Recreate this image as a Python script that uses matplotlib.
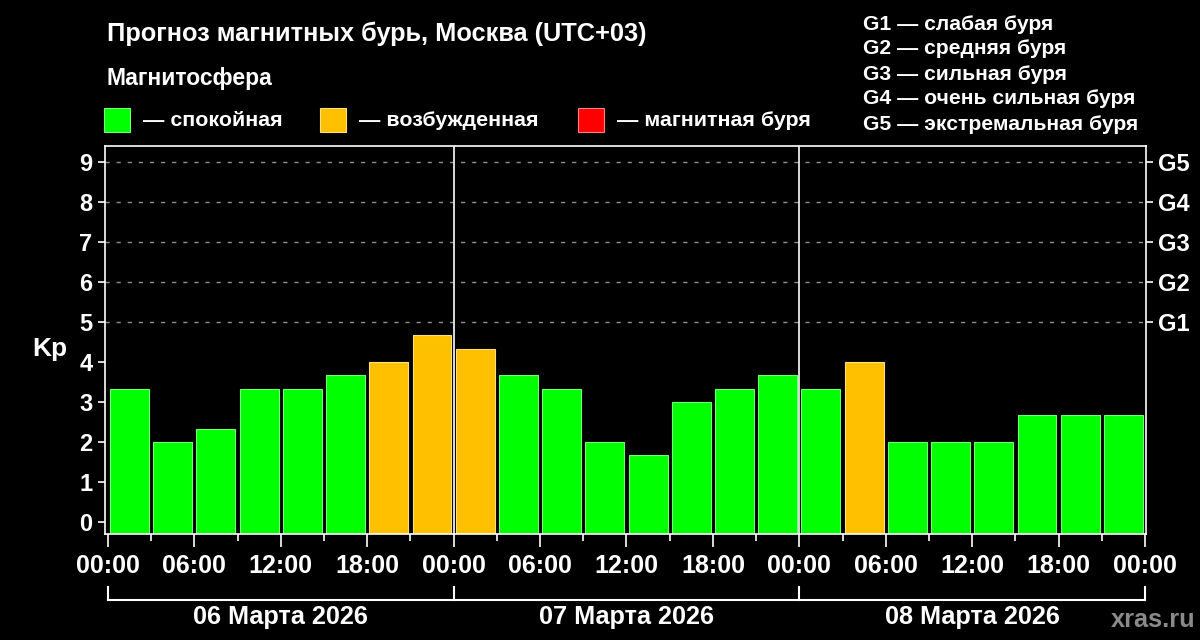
import matplotlib
matplotlib.use("Agg")
import matplotlib.pyplot as plt
import matplotlib.transforms as mtransforms

plt.rcParams["font.family"] = ["Liberation Sans", "DejaVu Sans"]
plt.rcParams["font.weight"] = "bold"

# Kp forecast, one value per 3-hour slot, 06-08 March 2026
kp = [3.33, 2.0, 2.33, 3.33, 3.33, 3.67, 4.0, 4.67,
      4.33, 3.67, 3.33, 2.0, 1.67, 3.0, 3.33, 3.67,
      3.33, 4.0, 2.0, 2.0, 2.0, 2.67, 2.67, 2.67]
slot_hours = 3
days = ["06 Марта 2026", "07 Марта 2026", "08 Марта 2026"]
hour_labels = ["00:00", "06:00", "12:00", "18:00"]
g_levels = [5, 6, 7, 8, 9]
g_labels = ["G1", "G2", "G3", "G4", "G5"]
storm_names = ["слабая буря", "средняя буря", "сильная буря",
               "очень сильная буря", "экстремальная буря"]
state_names = ["спокойная", "возбужденная", "магнитная буря"]

GREEN = "#00ff00"
ORANGE = "#ffc000"
RED = "#ff0000"
state_colors = [GREEN, ORANGE, RED]
edge_colors = {GREEN: "#70ff70", ORANGE: "#ffe080", RED: "#ff8080"}


def kp_color(v):
    if v < 4:
        return GREEN
    if v < 5:
        return ORANGE
    return RED


fig = plt.figure(figsize=(12, 6.4), dpi=100, facecolor="black")
ax = fig.add_axes([0.0875, 0.1656, 0.8673, 0.6063], facecolor="black")

ymin = -0.3
n = len(kp)
total_hours = n * slot_hours
x = [i * slot_hours + slot_hours / 2 for i in range(n)]
colors = [kp_color(v) for v in kp]
# bars rise from the bottom of the axes, below Kp 0
ax.bar(x, [v - ymin for v in kp], width=2.7, bottom=ymin, color=colors,
       edgecolor=[edge_colors[c] for c in colors], linewidth=0.8, zorder=2)
ax.set_xlim(-0.2, total_hours + 0.05)
ax.set_ylim(ymin, 9.4)

# dashed grid only above Kp 5
for g in g_levels:
    ax.axhline(g, color="#909090", lw=1, ls=(0, (3, 5)), zorder=1)

# day separators
for d in range(1, len(days)):
    ax.axvline(d * 24, color="white", lw=1.2, zorder=3)

for s in ax.spines.values():
    s.set_color("white")
    s.set_linewidth(1.2)

# x ticks
major = list(range(0, total_hours + 1, 6))
ax.set_xticks(major)
ax.set_xticklabels([hour_labels[(h % 24) // 6] for h in major])
ax.set_xticks(list(range(3, total_hours, 6)), minor=True)
ax.tick_params(axis="x", which="major", length=9.5, width=1.2, color="white",
               labelcolor="white", labelsize=18, pad=5)
ax.tick_params(axis="x", which="minor", length=5, width=1.2, color="white")

# y ticks left and right
ax.set_yticks(range(0, 10))
ax.tick_params(axis="y", length=5, width=1.2, color="white", labelcolor="white",
               labelsize=17, pad=4, right=True)
ax2 = ax.twinx()
ax2.set_ylim(ax.get_ylim())
ax2.set_yticks(g_levels)
ax2.set_yticklabels(g_labels)
ax2.tick_params(axis="y", length=5, width=1.2, color="white", labelcolor="white",
                labelsize=17, pad=4)
for s in ax2.spines.values():
    s.set_visible(False)

ax.set_ylabel("Kp", color="white", fontsize=19, fontweight="bold", rotation=0)
ax.yaxis.set_label_coords(-0.053, 0.446)

# date brackets under the axis
trans = mtransforms.blended_transform_factory(ax.transData, ax.transAxes)
ax.plot([0, total_hours], [-0.170, -0.170], color="white", lw=1.5,
        transform=trans, clip_on=False)
for d in range(len(days) + 1):
    ax.plot([d * 24, d * 24], [-0.170, -0.136], color="white", lw=1.5,
            transform=trans, clip_on=False)
for d, label in enumerate(days):
    ax.text(d * 24 + 12, -0.214, label, transform=trans, color="white",
            fontsize=18.2, ha="center", va="center")

# header
fig.text(0.089, 0.948, "Прогноз магнитных бурь, Москва (UTC+03)",
         color="white", fontsize=18.3, va="center")
fig.text(0.089, 0.878, "Магнитосфера", color="white", fontsize=16.5, va="center")
sq_x = [104, 320, 578]
for sx, c, name in zip(sq_x, state_colors, state_names):
    fig.patches.append(plt.Rectangle((sx / 1200, 1 - 132 / 640), 26 / 1200, 24 / 640,
                                     transform=fig.transFigure, facecolor=c,
                                     edgecolor=edge_colors[c], lw=0.8))
    fig.text((sx + 39) / 1200, 1 - 120 / 640, "— " + name, color="white",
             fontsize=15.4, va="center")

for i, (g, name) in enumerate(zip(g_labels, storm_names)):
    fig.text(863 / 1200, 1 - (24 + 25 * i) / 640, g + " — " + name,
             color="white", fontsize=15.2, va="center")

fig.text(0.996, 1 - 620 / 640, "xras.ru", color="#8a8a8a", fontsize=18.3,
         ha="right", va="center")

fig.savefig("out.png", dpi=100, facecolor="black")
